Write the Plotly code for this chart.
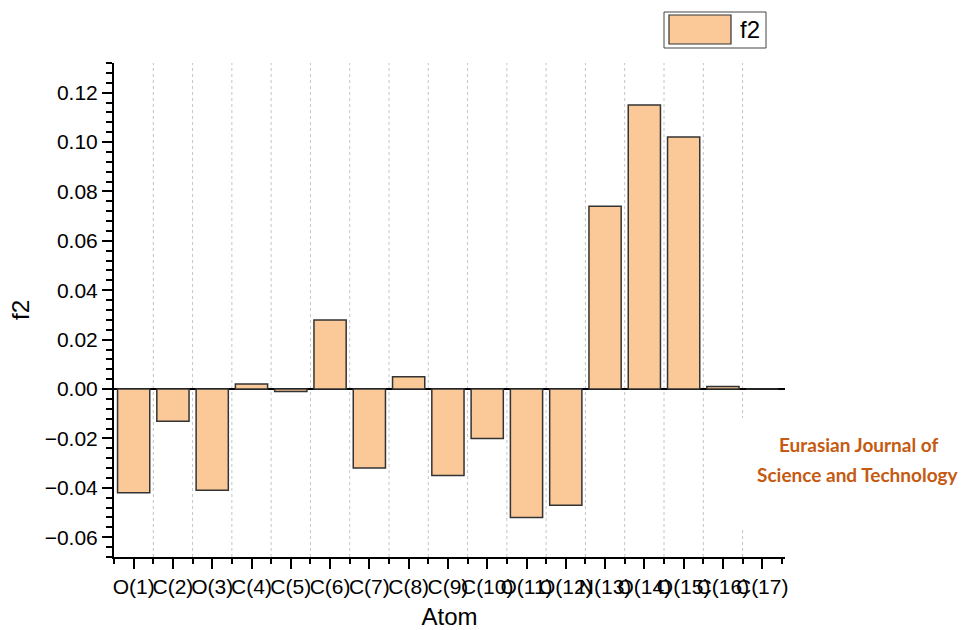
import plotly.graph_objects as go

# Atomic f2 values per atom
atoms = ["O(1)", "C(2)", "O(3)", "C(4)", "C(5)", "C(6)", "C(7)", "C(8)", "C(9)",
         "C(10)", "O(11)", "O(12)", "N(13)", "O(14)", "O(15)", "C(16)", "C(17)"]
f2 = [-0.042, -0.013, -0.041, 0.002, -0.001, 0.028, -0.032, 0.005, -0.035,
      -0.020, -0.052, -0.047, 0.074, 0.115, 0.102, 0.001, 0.0]
positions = list(range(1, len(atoms) + 1))

BAR_FILL = "#FBC898"
EDGE = "#333333"
FONT = "Liberation Sans, Arial, sans-serif"

# plot-area geometry in pixels (used to place paper-referenced decorations)
L, R, T, B = 114, 785, 63, 557


def px(x):
    return (x - L) / (R - L)


def py(y):
    return (B - y) / (B - T)


fig = go.Figure()
fig.add_trace(go.Bar(
    x=positions, y=f2, name="f2", width=0.82,
    marker=dict(color=BAR_FILL, line=dict(color=EDGE, width=1.5)),
    showlegend=False,
))

shapes = []
# dashed separators between atoms
for k in range(1, len(atoms)):
    shapes.append(dict(type="line", xref="x", yref="paper", x0=k + 0.5, x1=k + 0.5,
                       y0=0, y1=1, layer="below",
                       line=dict(color="#C4C4C4", width=1, dash="3px,3px")))
# white panel behind the journal caption
shapes.append(dict(type="rect", xref="paper", yref="paper", x0=px(725), x1=1.35,
                   y0=py(529), y1=py(418), layer="below",
                   fillcolor="white", line=dict(width=0)))
# legend box with swatch
shapes.append(dict(type="rect", xref="paper", yref="paper",
                   x0=px(664), x1=px(766), y0=py(48), y1=py(12),
                   fillcolor="white", line=dict(color="#444444", width=1)))
shapes.append(dict(type="rect", xref="paper", yref="paper",
                   x0=px(669), x1=px(731), y0=py(44), y1=py(15),
                   fillcolor=BAR_FILL, line=dict(color=EDGE, width=1.2)))

caption_font = dict(family="Lato, Open Sans, sans-serif", size=19, color="#C55A11")
annotations = [
    dict(text="f2", xref="paper", yref="paper", x=px(738), y=py(30),
         xanchor="left", yanchor="middle", showarrow=False,
         font=dict(family=FONT, size=24, color="black")),
    dict(text="<b>Eurasian Journal of</b>", xref="paper", yref="paper",
         x=px(858), y=py(444), xanchor="center", yanchor="middle",
         showarrow=False, font=caption_font),
    dict(text="<b>Science and Technology</b>", xref="paper", yref="paper",
         x=px(858), y=py(474), xanchor="center", yanchor="middle",
         showarrow=False, font=caption_font),
]

fig.update_layout(
    width=965, height=630,
    margin=dict(l=L, r=965 - R, t=T, b=630 - B),
    paper_bgcolor="white", plot_bgcolor="white",
    font=dict(family=FONT, color="black", size=21),
    shapes=shapes, annotations=annotations,
    showlegend=False,
)

fig.update_xaxes(
    range=[0.5, 17.58], automargin=False,
    tickmode="array", tickvals=positions, ticktext=atoms, tickangle=0,
    showgrid=False, zeroline=False,
    showline=True, linecolor="black", linewidth=2,
    ticks="outside", ticklen=10, tickwidth=2, tickcolor="black",
    tickfont=dict(family=FONT, size=21),
    minor=dict(tick0=0.5, dtick=1, ticks="outside", ticklen=5, tickwidth=2,
               tickcolor="black", showgrid=False),
    title=dict(text="Atom", font=dict(family=FONT, size=24), standoff=14),
)

fig.update_yaxes(
    range=[-0.068, 0.132], automargin=False,
    tickmode="linear", tick0=0, dtick=0.02, tickformat=".2f",
    showgrid=False,
    zeroline=True, zerolinecolor="black", zerolinewidth=1.5,
    showline=True, linecolor="black", linewidth=2,
    ticks="outside", ticklen=10, tickwidth=2, tickcolor="black",
    tickfont=dict(family=FONT, size=21),
    minor=dict(tick0=0, dtick=0.004, ticks="outside", ticklen=6, tickwidth=2,
               tickcolor="black", showgrid=False),
    title=dict(text="f2", font=dict(family=FONT, size=24), standoff=8),
)

fig.write_html("out.html")
